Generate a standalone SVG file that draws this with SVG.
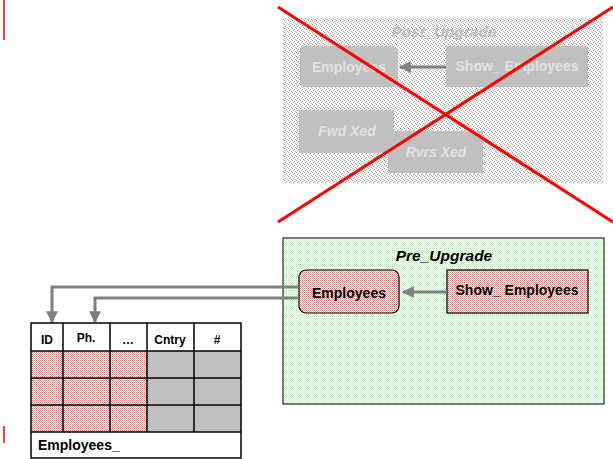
<svg xmlns="http://www.w3.org/2000/svg" width="613" height="459" viewBox="0 0 613 459">
  <defs>
    <pattern id="redDots" width="2" height="2" patternUnits="userSpaceOnUse">
      <rect width="2" height="2" fill="#ffffff"/>
      <rect x="0" y="0" width="1" height="1" fill="#ff7070"/>
      <rect x="1" y="1" width="1" height="1" fill="#ff9a9a"/>
    </pattern>
    <pattern id="greenDots" width="2" height="2" patternUnits="userSpaceOnUse">
      <rect width="2" height="2" fill="#ffffff"/>
      <rect x="0" y="0" width="1" height="1" fill="#b4f0b4"/>
      <rect x="1" y="1" width="1" height="1" fill="#cef6ce"/>
    </pattern>
    <pattern id="grayDots" width="4" height="4" patternUnits="userSpaceOnUse">
      <rect width="4" height="4" fill="#ffffff"/>
      <rect x="0" y="0" width="1" height="1" fill="#9a9a9a"/>
      <rect x="2" y="1" width="1" height="1" fill="#b0b0b0"/>
      <rect x="1" y="2" width="1" height="1" fill="#a4a4a4"/>
      <rect x="3" y="3" width="1" height="1" fill="#bcbcbc"/>
    </pattern>
    <marker id="arrow" viewBox="0 0 10 10" refX="9" refY="5" markerWidth="4" markerHeight="4" orient="auto" markerUnits="strokeWidth">
      <path d="M0,0 L10,5 L0,10 z" fill="#808080"/>
    </marker>
  </defs>
  <style>
    .lbl { font-family: "Liberation Sans", Arial, sans-serif; font-weight: bold; font-size: 14px; fill: #000; }
    .title { font-family: "Liberation Sans", Arial, sans-serif; font-weight: bold; font-style: italic; font-size: 15.5px; }
    .hdr { font-family: "Liberation Sans", Arial, sans-serif; font-weight: bold; font-size: 12px; fill: #000; }
    .ghost { fill: #c0c0c0; stroke: none; }
    .ghostTxt { font-family: "Liberation Sans", Arial, sans-serif; font-weight: bold; font-size: 14px; fill: #e2e2e2; }
    .conn { stroke: #808080; stroke-width: 3; fill: none; }
    .grid { stroke: #000; stroke-width: 1.5; fill: none; }
    .redTick { stroke: #ff0000; stroke-width: 1.5; }
  </style>

  <!-- margin ticks -->
  <line class="redTick" x1="4" y1="0" x2="4" y2="40"/>
  <line class="redTick" x1="4" y1="426" x2="4" y2="443"/>

  <!-- retired layout (crossed out) -->
  <g id="post-upgrade">
    <rect x="283" y="18" width="320" height="165" fill="url(#grayDots)"/>
    <text class="title" x="444" y="37" text-anchor="middle" fill="#bdbdbd">Post_Upgrade</text>
    <g id="post-employees">
      <rect class="ghost" x="300" y="46" width="98" height="41" rx="5"/>
      <text class="ghostTxt" x="349" y="72" text-anchor="middle">Employees</text>
    </g>
    <g id="post-show-employees">
      <rect class="ghost" x="446" y="46" width="142" height="41"/>
      <text class="ghostTxt" x="517" y="71" text-anchor="middle">Show_ Employees</text>
    </g>
    <line x1="446" y1="67" x2="400" y2="67" stroke="#808080" stroke-width="3" marker-end="url(#arrow)"/>
    <g id="post-fwd-xed">
      <rect class="ghost" x="299" y="110" width="95" height="43"/>
      <text class="ghostTxt" x="347" y="136" text-anchor="middle" font-style="italic" font-size="15.5">Fwd Xed</text>
    </g>
    <g id="post-rvrs-xed">
      <rect class="ghost" x="388" y="131" width="95" height="42"/>
      <text class="ghostTxt" x="436" y="157" text-anchor="middle" font-style="italic" font-size="15.5">Rvrs Xed</text>
    </g>
    <line x1="278" y1="7" x2="613" y2="222" stroke="#ff0000" stroke-width="3"/>
    <line x1="613" y1="7" x2="278" y2="222" stroke="#ff0000" stroke-width="3"/>
  </g>

  <!-- current layout -->
  <g id="pre-upgrade">
    <rect x="283" y="238" width="321" height="166" fill="url(#greenDots)" stroke="#000" stroke-width="1"/>
    <text class="title" x="444" y="261" text-anchor="middle" fill="#000">Pre_Upgrade</text>
  </g>
  <g id="employees">
    <rect x="299" y="270" width="100" height="43" rx="7" fill="url(#redDots)" stroke="#000" stroke-width="1.2"/>
    <text class="lbl" x="349" y="298" text-anchor="middle">Employees</text>
  </g>
  <g id="show-employees">
    <rect x="447" y="270" width="141" height="43" fill="url(#redDots)" stroke="#000" stroke-width="1.2"/>
    <text class="lbl" x="517" y="295" text-anchor="middle">Show_ Employees</text>
  </g>

  <!-- connectors -->
  <g id="connectors">
    <line class="conn" x1="447" y1="292" x2="403" y2="292" marker-end="url(#arrow)"/>
    <polyline class="conn" points="299,287 52,287 52,322" marker-end="url(#arrow)"/>
    <polyline class="conn" points="299,298 95,298 95,322" marker-end="url(#arrow)"/>
  </g>

  <!-- base table -->
  <g id="employees-table">
    <rect x="31" y="351" width="116" height="81" fill="url(#redDots)"/>
    <rect x="147" y="351" width="94" height="81" fill="#c0c0c0"/>
    <rect x="31" y="323" width="210" height="135" fill="none" stroke="#000" stroke-width="1.5"/>
    <path class="grid" d="M63,323 V432 M110,323 V432 M147,323 V432 M194,323 V432 M31,351 H241 M31,378 H241 M31,405 H241 M31,432 H241"/>
    <text class="hdr" x="47" y="344" text-anchor="middle">ID</text>
    <text class="hdr" x="86" y="342" text-anchor="middle">Ph.</text>
    <text class="hdr" x="128" y="344" text-anchor="middle">…</text>
    <text class="hdr" x="170" y="344" text-anchor="middle">Cntry</text>
    <text class="hdr" x="217" y="344" text-anchor="middle">#</text>
    <text class="lbl" x="38" y="450">Employees_</text>
  </g>
</svg>
